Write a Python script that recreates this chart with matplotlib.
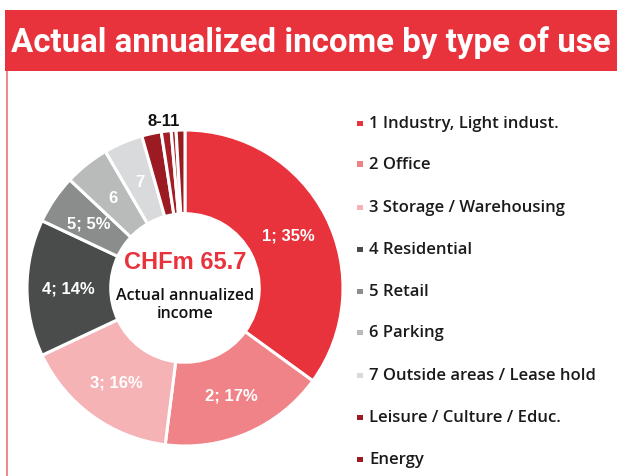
import matplotlib.pyplot as plt
from matplotlib.patches import Rectangle
import numpy as np

# income share by type of use (percent)
shares = [35, 17, 16, 14, 5, 4.6, 4.0, 2.0, 1.0, 0.5, 0.9]
slice_labels = ["1; 35%", "2; 17%", "3; 16%", "4; 14%", "5; 5%", "6", "7", "", "", "", ""]
colors = ["#e8323c", "#f08387", "#f5b3b6", "#4a4c4c", "#8b8d8d", "#b9bbbb",
          "#d9dadb", "#9c1a21", "#a51e25", "#b3262d", "#981b20"]

legend_labels = ["1 Industry, Light indust.", "2 Office", "3 Storage / Warehousing",
                 "4 Residential", "5 Retail", "6 Parking", "7 Outside areas / Lease hold",
                 "Leisure / Culture / Educ.", "Energy"]
legend_colors = colors[:7] + ["#9c1a21", "#9c1a21"]

title = "Actual annualized income by type of use"
total_label = "CHFm 65.7"

W, H = 617, 477
RED = "#e8323c"


def px(x, y):
    # pixel coordinates (origin top-left) -> figure fraction
    return x / W, 1 - y / H


fig = plt.figure(figsize=(W / 100, H / 100), dpi=100)
fig.patch.set_facecolor("white")

# header band and left rule
fig.patches.append(Rectangle(px(5, 72), (W - 5) / W, 61 / H, transform=fig.transFigure,
                             facecolor=RED, edgecolor="none"))
fig.patches.append(Rectangle(px(6, H), 1.6 / W, (H - 72) / H, transform=fig.transFigure,
                             facecolor="#f08a8f", edgecolor="none"))
fig.text(*px(311, 43), title, color="white", fontsize=23.8, fontweight="bold",
         family="Roboto", ha="center", va="center")

# donut
cx, cy, R = 185, 289, 158
ax = fig.add_axes([(cx - R) / W, (H - cy - R) / H, 2 * R / W, 2 * R / H])

wedges, _ = ax.pie(shares, colors=colors, startangle=90, counterclock=False, radius=1,
                   wedgeprops=dict(width=0.53, edgecolor="white", linewidth=2.2))
ax.set_xlim(-1, 1)
ax.set_ylim(-1, 1)
ax.axis("off")

for w, lab in zip(wedges, slice_labels):
    if not lab:
        continue
    ang = np.deg2rad((w.theta1 + w.theta2) / 2)
    ax.text(0.735 * np.cos(ang), 0.735 * np.sin(ang), lab, color="white", fontsize=12,
            fontweight="bold", family="Liberation Sans", ha="center", va="center")

# group label for the small slices 8-11
ang = np.deg2rad((wedges[7].theta2 + wedges[10].theta1) / 2)
ax.text(1.07 * np.cos(ang) + 0.01, 1.07 * np.sin(ang), "8-11", color="#111111",
        fontsize=12, fontweight="bold", family="Liberation Sans", ha="center", va="center")

ax.text(0, 0.165, total_label, color=RED, fontsize=17, fontweight="bold",
        family="Liberation Sans", ha="center", va="center")
ax.text(0, -0.1, "Actual annualized\nincome", color="#111111", fontsize=11.5,
        family="Open Sans", fontweight="semibold", ha="center", va="center",
        linespacing=1.15)

# legend
rows_y = [124, 165, 208, 250, 292, 333, 376, 418, 460]
for yy, lab, col in zip(rows_y, legend_labels, legend_colors):
    fig.patches.append(Rectangle(px(357, yy + 3), 5.5 / W, 5.5 / H, transform=fig.transFigure,
                                 facecolor=col, edgecolor="none"))
    fig.text(*px(369, yy), lab, color="#1a1a1a", fontsize=12, family="Open Sans",
             fontweight="semibold", ha="left", va="center")

fig.savefig("out.png", dpi=100)
